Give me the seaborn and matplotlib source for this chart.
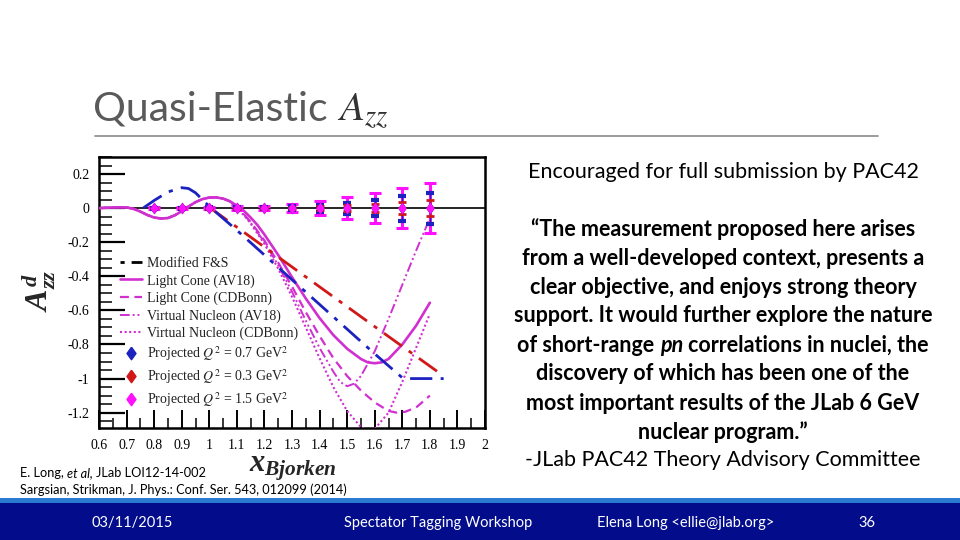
import numpy as np
import pandas as pd
import matplotlib
matplotlib.use("Agg")
import matplotlib.pyplot as plt
import seaborn as sns
from matplotlib.lines import Line2D
from matplotlib.patches import Rectangle
from matplotlib.ticker import MultipleLocator

# ---------------- data ----------------
pink_low_x = [0.600, 0.625, 0.650, 0.675, 0.700, 0.725, 0.750, 0.775, 0.800, 0.825,
              0.850, 0.875, 0.900, 0.925, 0.950, 0.975, 1.000, 1.025, 1.050, 1.075]
pink_low_y = [0.000, 0.002, 0.004, 0.005, 0.004, -0.004, -0.020, -0.040, -0.055, -0.061,
              -0.058, -0.042, -0.018, 0.010, 0.035, 0.053, 0.062, 0.063, 0.056, 0.040]

lc_av18_x = [1.100, 1.125, 1.150, 1.175, 1.200, 1.250, 1.300, 1.350, 1.400, 1.450,
             1.500, 1.550, 1.575, 1.600, 1.625, 1.650, 1.700, 1.750, 1.800]
lc_av18_y = [0.015, -0.015, -0.055, -0.100, -0.155, -0.275, -0.405, -0.530, -0.645, -0.745,
             -0.825, -0.885, -0.905, -0.910, -0.905, -0.885, -0.800, -0.690, -0.555]

lc_cdb_x = [1.100, 1.125, 1.150, 1.200, 1.250, 1.300, 1.350, 1.400, 1.450, 1.500,
            1.550, 1.600, 1.650, 1.680, 1.710, 1.750, 1.800]
lc_cdb_y = [0.000, -0.035, -0.080, -0.190, -0.320, -0.460, -0.610, -0.750, -0.880, -0.985,
            -1.070, -1.140, -1.190, -1.200, -1.195, -1.170, -1.100]

vn_av18_x = [1.100, 1.125, 1.150, 1.200, 1.250, 1.300, 1.350, 1.400, 1.450, 1.475,
             1.500, 1.525, 1.550, 1.600, 1.650, 1.700, 1.750, 1.800]
vn_av18_y = [0.000, -0.035, -0.085, -0.200, -0.335, -0.490, -0.660, -0.820, -0.960, -1.020,
             -1.045, -1.030, -0.985, -0.840, -0.650, -0.450, -0.250, -0.060]

vn_cdb_x = [1.100, 1.125, 1.150, 1.200, 1.250, 1.300, 1.350, 1.400, 1.450, 1.500,
            1.550, 1.575, 1.600, 1.650, 1.700, 1.750, 1.800]
vn_cdb_y = [-0.005, -0.040, -0.090, -0.210, -0.355, -0.520, -0.700, -0.880, -1.050, -1.190,
            -1.285, -1.310, -1.295, -1.200, -1.020, -0.820, -0.620]

fs_x = [0.760, 0.800, 0.850, 0.900, 0.925, 0.950, 0.975, 1.000, 1.100, 1.200,
        1.300, 1.400, 1.500, 1.600, 1.700, 1.720, 1.850]
fs_y = [0.000, 0.045, 0.095, 0.120, 0.115, 0.090, 0.050, 0.010, -0.130, -0.275,
        -0.420, -0.565, -0.710, -0.855, -0.995, -1.000, -1.000]

fs_red_x = [1.00, 1.30, 1.60, 1.85]
fs_red_y = [0.005, -0.345, -0.695, -0.985]

proj_x = [0.8, 0.9, 1.0, 1.1, 1.2, 1.3, 1.4, 1.5, 1.6, 1.7, 1.8]
proj_y = [0.0] * 11
err_q07 = [0.003, 0.003, 0.004, 0.005, 0.007, 0.012, 0.020, 0.033, 0.049, 0.074, 0.091]
err_q03 = [0.002, 0.002, 0.003, 0.003, 0.004, 0.006, 0.010, 0.016, 0.024, 0.036, 0.045]
err_q15 = [0.005, 0.005, 0.007, 0.010, 0.012, 0.025, 0.041, 0.065, 0.088, 0.118, 0.147]

x_ticks = [0.6, 0.7, 0.8, 0.9, 1.0, 1.1, 1.2, 1.3, 1.4, 1.5, 1.6, 1.7, 1.8, 1.9, 2.0]
x_tick_labels = ["0.6", "0.7", "0.8", "0.9", "1", "1.1", "1.2", "1.3", "1.4", "1.5",
                 "1.6", "1.7", "1.8", "1.9", "2"]
y_ticks = [0.2, 0.0, -0.2, -0.4, -0.6, -0.8, -1.0, -1.2]
y_tick_labels = ["0.2", "0", "-0.2", "-0.4", "-0.6", "-0.8", "-1", "-1.2"]

legend_labels = ["Modified F&S", "Light Cone (AV18)", "Light Cone (CDBonn)",
                 "Virtual Nucleon (AV18)", "Virtual Nucleon (CDBonn)",
                 r"Projected $Q^2$ = 0.7 GeV$^2$", r"Projected $Q^2$ = 0.3 GeV$^2$",
                 r"Projected $Q^2$ = 1.5 GeV$^2$"]

quote_lines = ["\u201cThe measurement proposed here arises",
               "from a well-developed context, presents a",
               "clear objective, and enjoys strong theory",
               "support. It would further explore the nature",
               None,
               "discovery of which has been one of the",
               "most important results of the JLab 6 GeV",
               "nuclear program.\u201d"]

# ---------------- style ----------------
sns.set_theme(style="white")
plt.rcParams["font.family"] = ["Lato", "DejaVu Sans"]
plt.rcParams["mathtext.fontset"] = "stix"
plt.rcParams["mathtext.it"] = "Liberation Serif:italic:bold"
plt.rcParams["mathtext.rm"] = "Liberation Serif:bold"
plt.rcParams["mathtext.bf"] = "Liberation Serif:bold"

W, H = 960, 540
fig = plt.figure(figsize=(9.6, 5.4), dpi=100)
fig.patch.set_facecolor("white")

def fx(x):
    return x / W

def fy(y):
    return 1 - y / H

ax = fig.add_axes([fx(99), 1 - 428 / H, 386 / W, 271 / H])
ax.set_facecolor("white")

MAG = "#d030d0"
BLUE = "#1c22c0"
RED = "#d01818"
PINK_PT = "#ff10ff"
serif = ["Liberation Serif", "DejaVu Serif"]

ax.axhline(0, color="black", lw=1.2, zorder=2)

pink_curves = [
    (lc_av18_x, lc_av18_y, "-", 1.9),
    (lc_cdb_x, lc_cdb_y, (0, (4, 2.5)), 1.6),
    (vn_av18_x, vn_av18_y, (0, (5, 1.5, 1, 1.5, 1, 1.5)), 1.4),
    (vn_cdb_x, vn_cdb_y, (0, (1, 1.2)), 1.5),
]
for xs, ys, ls, lw in pink_curves:
    sns.lineplot(x=pink_low_x + xs, y=pink_low_y + ys, ax=ax, color=MAG,
                 linestyle=ls, lw=lw, sort=False, estimator=None, zorder=3)

sns.lineplot(x=fs_red_x, y=fs_red_y, ax=ax, color=RED, linestyle=(0, (8, 3, 1.5, 3)),
             lw=2.0, sort=False, estimator=None, zorder=3)
sns.lineplot(x=fs_x, y=fs_y, ax=ax, color=BLUE, linestyle=(0, (8, 3, 1.5, 3)),
             lw=2.0, sort=False, estimator=None, zorder=3)

diamond = [(0, 1), (0.72, 0), (0, -1), (-0.72, 0), (0, 1)]

ax.errorbar(proj_x, proj_y, yerr=err_q15, fmt="none", ecolor=PINK_PT, elinewidth=2.2,
            capsize=4, capthick=2.2, zorder=4)
ax.errorbar(proj_x, proj_y, yerr=err_q07, fmt="none", ecolor=BLUE, elinewidth=1.0,
            capsize=3, capthick=3, zorder=5)
ax.errorbar(proj_x, proj_y, yerr=err_q03, fmt="none", ecolor=RED, elinewidth=1.0,
            capsize=3, capthick=2, zorder=5)
sns.scatterplot(x=proj_x, y=proj_y, ax=ax, marker=diamond, s=70, color=RED,
                linewidth=0, zorder=6)
sns.scatterplot(x=proj_x, y=proj_y, ax=ax, marker=diamond, s=70, color=BLUE,
                linewidth=0, zorder=6)
sns.scatterplot(x=proj_x, y=proj_y, ax=ax, marker=diamond, s=70, color=PINK_PT,
                linewidth=0, zorder=7)

ax.set_xlim(0.6, 2.0)
ax.set_ylim(-1.29, 0.30)
ax.set_xticks(x_ticks)
ax.set_xticklabels(x_tick_labels, fontfamily=serif, fontsize=10)
ax.set_yticks(y_ticks)
ax.set_yticklabels(y_tick_labels, fontfamily=serif, fontsize=10)
ax.xaxis.set_minor_locator(MultipleLocator(0.05))
ax.yaxis.set_minor_locator(MultipleLocator(0.05))
ax.tick_params(axis="y", which="major", direction="in", length=19, width=1.6,
               left=True, right=False, pad=7, colors="black")
ax.tick_params(axis="y", which="minor", direction="in", length=9, width=1.3,
               left=True, right=False)
ax.tick_params(axis="x", which="major", direction="in", length=13, width=1.4,
               bottom=True, top=False, pad=8, colors="black")
ax.tick_params(axis="x", which="minor", direction="in", length=7, width=1.3,
               bottom=True, top=False)
for sp in ax.spines.values():
    sp.set_color("black")
    sp.set_linewidth(1.8)
ax.set_xlabel("")
ax.set_ylabel("")

handles = [
    Line2D([], [], color="black", lw=2, linestyle=(0, (1.5, 2.5, 8, 3))),
    Line2D([], [], color=MAG, lw=1.9, linestyle="-"),
    Line2D([], [], color=MAG, lw=1.6, linestyle=(0, (4, 2.5))),
    Line2D([], [], color=MAG, lw=1.4, linestyle=(0, (5, 1.5, 1, 1.5, 1, 1.5))),
    Line2D([], [], color=MAG, lw=1.5, linestyle=(0, (1, 1.2))),
    Line2D([], [], color=BLUE, marker=diamond, markersize=9, linestyle="none"),
    Line2D([], [], color=RED, marker=diamond, markersize=9, linestyle="none"),
    Line2D([], [], color=PINK_PT, marker=diamond, markersize=9, linestyle="none"),
]
leg = ax.legend(handles, legend_labels, loc="upper left",
                bbox_to_anchor=((120 - 99) / 386, (428 - 257) / 271),
                frameon=False, borderpad=0, borderaxespad=0, handlelength=1.6,
                handletextpad=0.35, labelspacing=0.29,
                prop={"family": serif, "size": 10})
for t in leg.get_texts():
    t.set_color("#222222")

# axis labels (ROOT style, bold italic serif)
fig.text(fx(39), fy(291), r"$A^{d}_{zz}$", rotation=90, math_fontfamily="custom",
         fontsize=23, ha="center", va="center")
fig.text(fx(293), fy(469), r"$x_{Bjorken}$", math_fontfamily="custom",
         fontsize=22, ha="center", va="center")

# ---------------- slide decorations ----------------
fig.text(fx(93), fy(121), "Quasi-Elastic", fontsize=29.5, fontweight="normal",
         color="#5a5a5a", ha="left", va="baseline")
fig.text(fx(337), fy(121), r"$A_{zz}$", fontsize=29.5, color="#333333",
         ha="left", va="baseline")
fig.add_artist(Line2D([fx(95), fx(878)], [fy(136), fy(136)], color="#8a8a8a", lw=1.2))

renderer = fig.canvas.get_renderer()

def text_width(s, **kw):
    t = fig.text(0, 0, s, **kw)
    w = t.get_window_extent(renderer).width
    t.remove()
    return w

def mixed(segments, x, y, ha="center", **common):
    space = text_width("a a", **common) - text_width("aa", **common)
    widths = [text_width(s, **common, **kw) for s, kw in segments]
    total = sum(widths) + space * (len(segments) - 1)
    start = x - total / 2 if ha == "center" else x
    for (s, kw), w in zip(segments, widths):
        fig.text(fx(start), fy(y), s, ha="left", va="center", **common, **kw)
        start += w + space

CX = 723
FS = 15.5
body = dict(fontsize=FS, color="black")
fig.text(fx(CX), fy(172), "Encouraged for full submission by PAC42", ha="center",
         va="center", **body)
line_y = [229, 258, 287, 316, 345, 374, 403, 432]
for ln, yy in zip(quote_lines, line_y):
    if ln is None:
        mixed([("of short-range", {}), ("pn", {"fontstyle": "italic"}),
               ("correlations in nuclei, the", {})], CX, yy,
              fontsize=FS, fontweight="bold", color="black")
    else:
        fig.text(fx(CX), fy(yy), ln, ha="center", va="center", fontweight="bold", **body)
fig.text(fx(CX), fy(460), "-JLab PAC42 Theory Advisory Committee", ha="center",
         va="center", **body)

mixed([("E. Long,", {}), ("et al,", {"fontstyle": "italic"}), ("JLab LOI12-14-002", {})],
      20, 473, ha="left", fontsize=9.2, color="black")
fig.text(fx(20), fy(490), "Sargsian, Strikman, J. Phys.: Conf. Ser. 543, 012099 (2014)",
         ha="left", va="center", fontsize=9.2, color="black")

fig.add_artist(Rectangle((0, 0), 1, 42 / H, transform=fig.transFigure,
                         facecolor="#2a7ad2", edgecolor="none", zorder=0))
fig.add_artist(Rectangle((0, 0), 1, 37 / H, transform=fig.transFigure,
                         facecolor="#030d8c", edgecolor="none", zorder=0))
foot = dict(fontsize=10.5, color="white", ha="center", va="center")
fig.text(fx(132), fy(523), "03/11/2015", **foot)
fig.text(fx(438), fy(523), "Spectator Tagging Workshop", **foot)
fig.text(fx(686), fy(523), "Elena Long <ellie@jlab.org>", **foot)
fig.text(fx(867), fy(523), "36", **foot)

fig.savefig("out.png", dpi=100)
